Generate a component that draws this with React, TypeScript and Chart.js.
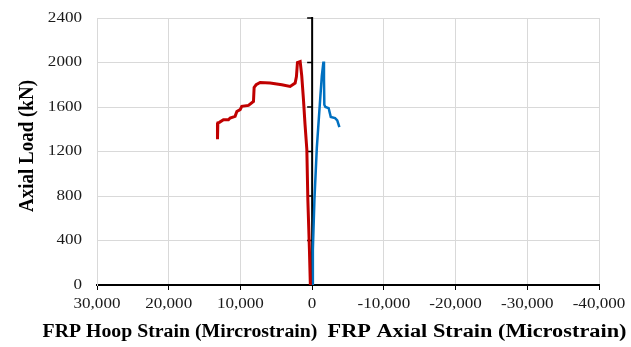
import { useEffect, useRef } from "react";
import { Chart, registerables } from "chart.js";

Chart.register(...registerables);

// Axis ticks
const loadTicks = [0, 400, 800, 1200, 1600, 2000, 2400];
const strainTicks = [30000, 20000, 10000, 0, -10000, -20000, -30000, -40000];

// FRP hoop strain (positive side) vs axial load
const hoopStrain = [250, 380, 600, 740, 1000, 1210, 1450, 1670, 2050, 2190, 2370, 3070, 4230, 5860, 7250, 7810, 8090, 8180, 8880, 9810, 10040, 10500, 10740, 11440, 11670, 12370, 12930, 13150, 13200];
const hoopLoad = [0, 320, 770, 1218, 1450, 1666, 1880, 2008, 2000, 1874, 1815, 1785, 1800, 1815, 1820, 1800, 1776, 1650, 1614, 1606, 1576, 1560, 1516, 1501, 1486, 1486, 1462, 1457, 1310];

// FRP axial strain (negative side) vs axial load
const axialStrain = [0, -100, -320, -650, -1115, -1350, -1580, -1650, -1700, -1850, -2300, -2600, -3200, -3500, -3800];
const axialLoad = [0, 320, 770, 1230, 1666, 1880, 2008, 1850, 1620, 1600, 1590, 1510, 1500, 1480, 1420];

const yTitle = "Axial Load (kN)";
const hoopTitle = "FRP Hoop Strain (Mircrostrain)";
const axialTitle = "FRP Axial Strain (Microstrain)";

const SERIF = "'Liberation Serif', 'Times New Roman', serif";
const TICK_FONT = `14px ${SERIF}`;
const TITLE_FONT = `bold 18px ${SERIF}`;
const Y_TITLE_FONT = `bold 19px ${SERIF}`;
// Text in this figure is set wide
const TICK_STRETCH = 1.22;

const toPoints = (xs: number[], ys: number[]) => xs.map((x, i) => ({ x, y: ys[i] }));

// Draw text widened horizontally by sx, anchored per textAlign
function wideText(ctx: CanvasRenderingContext2D, text: string, x: number, y: number, sx: number) {
  ctx.save();
  ctx.translate(x, y);
  ctx.scale(sx, 1);
  ctx.fillText(text, 0, 0);
  ctx.restore();
}

// Black load axis crossing at zero strain, with tick marks on its left side
const zeroAxis = {
  id: "zeroAxis",
  beforeDatasetsDraw(chart: any) {
    const { ctx, scales } = chart;
    const xs = scales.x;
    const ys = scales.y;
    const x0 = xs.getPixelForValue(0);
    ctx.save();
    ctx.strokeStyle = "#000";
    ctx.lineWidth = 2;
    ctx.beginPath();
    ctx.moveTo(x0, ys.getPixelForValue(loadTicks[0]) + 1);
    ctx.lineTo(x0, ys.getPixelForValue(loadTicks[loadTicks.length - 1]) - 1);
    ctx.stroke();
    ctx.lineWidth = 1.5;
    loadTicks.forEach((v) => {
      const y = ys.getPixelForValue(v);
      ctx.beginPath();
      ctx.moveTo(x0 - 5, y);
      ctx.lineTo(x0, y);
      ctx.stroke();
    });
    ctx.restore();
  },
};

// Tick labels and axis titles
const axisText = {
  id: "axisText",
  afterDraw(chart: any) {
    const { ctx, scales, chartArea } = chart;
    const xs = scales.x;
    const ys = scales.y;
    ctx.save();
    ctx.fillStyle = "#1a1a1a";
    ctx.font = TICK_FONT;
    ctx.textBaseline = "middle";

    ctx.textAlign = "right";
    loadTicks.forEach((v) => {
      wideText(ctx, String(v), chartArea.left - 15, ys.getPixelForValue(v), TICK_STRETCH);
    });

    ctx.textAlign = "center";
    strainTicks.forEach((v) => {
      wideText(ctx, v.toLocaleString("en-US"), xs.getPixelForValue(v), chartArea.bottom + 19, TICK_STRETCH);
    });

    ctx.fillStyle = "#000";
    ctx.font = Y_TITLE_FONT;
    ctx.save();
    ctx.translate(27, 146);
    ctx.rotate(-Math.PI / 2);
    ctx.scale(1, 1.15);
    ctx.fillText(yTitle, 0, 0);
    ctx.restore();

    ctx.font = TITLE_FONT;
    wideText(ctx, hoopTitle, 180, 332, 1.1);
    wideText(ctx, axialTitle, 477, 332, 1.24);
    ctx.restore();
  },
};

export default function App() {
  const canvasRef = useRef<HTMLCanvasElement | null>(null);

  useEffect(() => {
    document.body.style.margin = "0";
    const canvas = canvasRef.current;
    if (!canvas) return;
    const chart = new Chart(canvas, {
      type: "line",
      data: {
        datasets: [
          {
            label: "Hoop",
            data: toPoints(hoopStrain, hoopLoad),
            borderColor: "#C00000",
            borderWidth: 3,
            pointRadius: 0,
            tension: 0,
            fill: false,
          },
          {
            label: "Axial",
            data: toPoints(axialStrain, axialLoad),
            borderColor: "#0070C0",
            borderWidth: 2.5,
            pointRadius: 0,
            tension: 0,
            fill: false,
          },
        ],
      },
      options: {
        responsive: false,
        animation: false,
        layout: { padding: { top: 18, right: 32, left: 0, bottom: 0 } },
        plugins: {
          legend: { display: false },
          tooltip: { enabled: false },
          title: { display: false },
        },
        scales: {
          x: {
            type: "linear",
            reverse: true,
            min: strainTicks[strainTicks.length - 1],
            max: strainTicks[0],
            afterBuildTicks: (s: any) => {
              s.ticks = strainTicks.map((v) => ({ value: v }));
            },
            afterFit: (s: any) => {
              s.height = 62;
            },
            ticks: { display: false, autoSkip: false },
            grid: {
              color: "#d9d9d9",
              lineWidth: 1,
              tickColor: "#000",
              tickLength: 5,
            },
            border: { color: "#000", width: 2 },
          },
          y: {
            type: "linear",
            min: loadTicks[0],
            max: loadTicks[loadTicks.length - 1],
            afterBuildTicks: (s: any) => {
              s.ticks = loadTicks.map((v) => ({ value: v }));
            },
            afterFit: (s: any) => {
              s.width = 97;
            },
            ticks: { display: false, autoSkip: false },
            grid: { color: "#d9d9d9", lineWidth: 1, drawTicks: false },
            border: { color: "#d9d9d9", width: 1 },
          },
        },
      },
      plugins: [zeroAxis, axisText],
    });
    return () => chart.destroy();
  }, []);

  return (
    <div style={{ position: "absolute", left: 0, top: 0, width: 631, height: 347, background: "#fff" }}>
      <canvas ref={canvasRef} width={631} height={347} />
    </div>
  );
}
